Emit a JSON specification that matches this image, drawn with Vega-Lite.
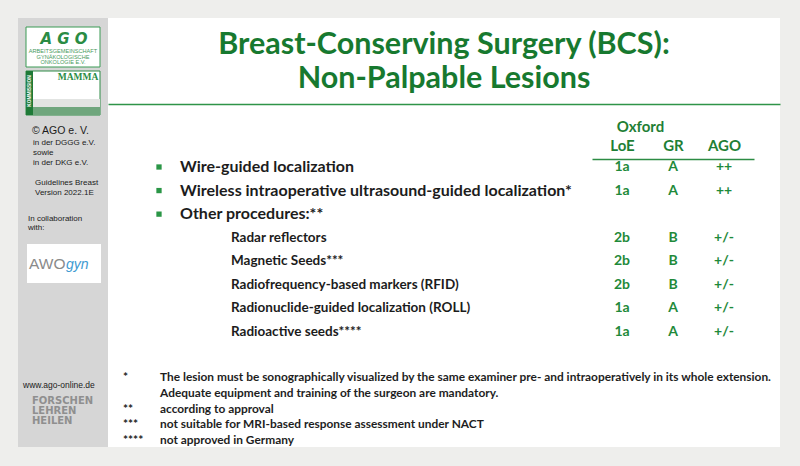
{
  "$schema": "https://vega.github.io/schema/vega-lite/v6.json",
  "background": "#eeeeec",
  "padding": {"left": 18, "top": 18, "right": 20, "bottom": 19},
  "spacing": 0,
  "bounds": "flush",
  "config": {"view": {"stroke": null}},
  "datasets": {
    "procedures": [
      {"order": 1, "group": "main", "item": "Wire-guided localization", "LoE": "1a", "GR": "A", "AGO": "++"},
      {"order": 2, "group": "main", "item": "Wireless intraoperative ultrasound-guided localization*", "LoE": "1a", "GR": "A", "AGO": "++"},
      {"order": 3, "group": "main", "item": "Other procedures:**"},
      {"order": 4, "group": "other", "item": "Radar reflectors", "LoE": "2b", "GR": "B", "AGO": "+/-"},
      {"order": 5, "group": "other", "item": "Magnetic Seeds***", "LoE": "2b", "GR": "B", "AGO": "+/-"},
      {"order": 6, "group": "other", "item": "Radiofrequency-based markers (RFID)", "LoE": "2b", "GR": "B", "AGO": "+/-"},
      {"order": 7, "group": "other", "item": "Radionuclide-guided localization (ROLL)", "LoE": "1a", "GR": "A", "AGO": "+/-"},
      {"order": 8, "group": "other", "item": "Radioactive seeds****", "LoE": "1a", "GR": "A", "AGO": "+/-"}
    ],
    "footnotes": [
      {"order": 1, "symbol": "*", "note": "The lesion must be sonographically visualized by the same examiner pre- and intraoperatively in its whole extension."},
      {"order": 2, "symbol": "", "note": "Adequate equipment and training of the surgeon are mandatory."},
      {"order": 3, "symbol": "**", "note": "according to approval"},
      {"order": 4, "symbol": "***", "note": "not suitable for MRI-based response assessment under NACT"},
      {"order": 5, "symbol": "****", "note": "not approved in Germany"}
    ]
  },
  "hconcat": [
    {
      "width": 90,
      "height": 429,
      "view": {"fill": "#d6d6d6", "stroke": null},
      "resolve": {"scale": {"x": "independent", "y": "independent"}},
      "layer": [
        {
          "data": {"values": [{"logo": "AGO"}]},
          "mark": {"type": "rect", "fill": "#ffffff", "stroke": "#3b9a55", "strokeWidth": 1},
          "encoding": {
            "x": {"field": "logo", "type": "nominal", "scale": {"type": "band", "domain": ["AGO"], "range": [8, 82], "padding": 0}, "axis": null},
            "y": {"field": "logo", "type": "nominal", "scale": {"type": "band", "domain": ["AGO"], "range": [9, 49], "padding": 0}, "axis": null}
          }
        },
        {
          "data": {"values": [{"logo": "AGO", "text": "A G O"}]},
          "mark": {"type": "text", "font": "DejaVu Sans", "fontStyle": "italic", "fontWeight": "bold", "fontSize": 15, "color": "#2a8c44", "align": "center", "baseline": "middle"},
          "encoding": {
            "x": {"field": "logo", "type": "nominal", "scale": {"domain": ["AGO"], "range": [46, 46]}, "axis": null},
            "y": {"field": "logo", "type": "nominal", "scale": {"domain": ["AGO"], "range": [21, 21]}, "axis": null},
            "text": {"field": "text"}
          }
        },
        {
          "data": {"values": [
            {"logo": "AGO", "line": 1, "text": "ARBEITSGEMEINSCHAFT"},
            {"logo": "AGO", "line": 2, "text": "GYNÄKOLOGISCHE"},
            {"logo": "AGO", "line": 3, "text": "ONKOLOGIE E.V."}
          ]},
          "mark": {"type": "text", "font": "Liberation Sans", "fontSize": 5.6, "color": "#4a9a5c", "align": "center", "baseline": "middle"},
          "encoding": {
            "x": {"field": "logo", "type": "nominal", "scale": {"domain": ["AGO"], "range": [45, 45]}, "axis": null},
            "y": {"field": "line", "type": "quantitative", "scale": {"domain": [1, 3], "range": [33, 44], "zero": false, "nice": false}, "axis": null},
            "text": {"field": "text"}
          }
        },
        {
          "data": {"values": [{"logo": "MAMMA"}]},
          "mark": {"type": "rect", "fill": "#ffffff", "stroke": "#2e8b46", "strokeWidth": 1},
          "encoding": {
            "x": {"field": "logo", "type": "nominal", "scale": {"type": "band", "domain": ["MAMMA"], "range": [8, 82], "padding": 0}, "axis": null},
            "y": {"field": "logo", "type": "nominal", "scale": {"type": "band", "domain": ["MAMMA"], "range": [53, 97], "padding": 0}, "axis": null}
          }
        },
        {
          "data": {"values": [{"logo": "MAMMA"}]},
          "mark": {"type": "rect", "fill": "#e2e4e2"},
          "encoding": {
            "x": {"field": "logo", "type": "nominal", "scale": {"type": "band", "domain": ["MAMMA"], "range": [15, 82], "padding": 0}, "axis": null},
            "y": {"field": "logo", "type": "nominal", "scale": {"type": "band", "domain": ["MAMMA"], "range": [81, 89], "padding": 0}, "axis": null}
          }
        },
        {
          "data": {"values": [{"logo": "MAMMA"}]},
          "mark": {"type": "rect", "fill": "#6fa67d"},
          "encoding": {
            "x": {"field": "logo", "type": "nominal", "scale": {"type": "band", "domain": ["MAMMA"], "range": [15, 82], "padding": 0}, "axis": null},
            "y": {"field": "logo", "type": "nominal", "scale": {"type": "band", "domain": ["MAMMA"], "range": [89, 97], "padding": 0}, "axis": null}
          }
        },
        {
          "data": {"values": [{"logo": "MAMMA"}]},
          "mark": {"type": "rect", "fill": "#1e7a37"},
          "encoding": {
            "x": {"field": "logo", "type": "nominal", "scale": {"type": "band", "domain": ["MAMMA"], "range": [8, 15], "padding": 0}, "axis": null},
            "y": {"field": "logo", "type": "nominal", "scale": {"type": "band", "domain": ["MAMMA"], "range": [53, 97], "padding": 0}, "axis": null}
          }
        },
        {
          "data": {"values": [{"logo": "MAMMA", "text": "KOMMISSION"}]},
          "mark": {"type": "text", "font": "Liberation Sans", "fontWeight": "bold", "fontSize": 4.8, "color": "#ffffff", "angle": 270, "align": "center", "baseline": "middle"},
          "encoding": {
            "x": {"field": "logo", "type": "nominal", "scale": {"domain": ["MAMMA"], "range": [11.5, 11.5]}, "axis": null},
            "y": {"field": "logo", "type": "nominal", "scale": {"domain": ["MAMMA"], "range": [73, 73]}, "axis": null},
            "text": {"field": "text"}
          }
        },
        {
          "data": {"values": [{"logo": "MAMMA", "text": "MAMMA"}]},
          "mark": {"type": "text", "font": "Liberation Serif", "fontWeight": "bold", "fontSize": 9.5, "color": "#2a8c44", "align": "center", "baseline": "middle"},
          "encoding": {
            "x": {"field": "logo", "type": "nominal", "scale": {"domain": ["MAMMA"], "range": [60, 60]}, "axis": null},
            "y": {"field": "logo", "type": "nominal", "scale": {"domain": ["MAMMA"], "range": [59, 59]}, "axis": null},
            "text": {"field": "text"}
          }
        },
        {
          "data": {"values": [{"logo": "AWOgyn"}]},
          "mark": {"type": "rect", "fill": "#ffffff"},
          "encoding": {
            "x": {"field": "logo", "type": "nominal", "scale": {"type": "band", "domain": ["AWOgyn"], "range": [9, 83], "padding": 0}, "axis": null},
            "y": {"field": "logo", "type": "nominal", "scale": {"type": "band", "domain": ["AWOgyn"], "range": [226, 265], "padding": 0}, "axis": null}
          }
        },
        {
          "data": {"values": [{"logo": "AWOgyn", "text": "AWO"}]},
          "mark": {"type": "text", "font": "Liberation Sans", "fontSize": 15.5, "color": "#8a8a8a", "align": "left", "baseline": "middle"},
          "encoding": {
            "x": {"field": "logo", "type": "nominal", "scale": {"domain": ["AWOgyn"], "range": [11, 11]}, "axis": null},
            "y": {"field": "logo", "type": "nominal", "scale": {"domain": ["AWOgyn"], "range": [246, 246]}, "axis": null},
            "text": {"field": "text"}
          }
        },
        {
          "data": {"values": [{"logo": "AWOgyn", "text": "gyn"}]},
          "mark": {"type": "text", "font": "Liberation Sans", "fontStyle": "italic", "fontSize": 14, "color": "#3d9ad1", "align": "left", "baseline": "middle"},
          "encoding": {
            "x": {"field": "logo", "type": "nominal", "scale": {"domain": ["AWOgyn"], "range": [48, 48]}, "axis": null},
            "y": {"field": "logo", "type": "nominal", "scale": {"domain": ["AWOgyn"], "range": [247, 247]}, "axis": null},
            "text": {"field": "text"}
          }
        },
        {
          "data": {"values": [{"block": "org", "text": "© AGO e. V."}]},
          "mark": {"type": "text", "font": "Liberation Sans", "fontSize": 10.5, "color": "#1b1b1b", "align": "left", "baseline": "middle"},
          "encoding": {
            "x": {"field": "block", "type": "nominal", "scale": {"domain": ["org"], "range": [14, 14]}, "axis": null},
            "y": {"field": "block", "type": "nominal", "scale": {"domain": ["org"], "range": [113, 113]}, "axis": null},
            "text": {"field": "text"}
          }
        },
        {
          "data": {"values": [
            {"block": "membership", "line": 1, "text": "in der DGGG e.V."},
            {"block": "membership", "line": 2, "text": "sowie"},
            {"block": "membership", "line": 3, "text": "in der DKG e.V."}
          ]},
          "mark": {"type": "text", "font": "Liberation Sans", "fontSize": 8, "color": "#1b1b1b", "align": "left", "baseline": "middle"},
          "encoding": {
            "x": {"field": "block", "type": "nominal", "scale": {"domain": ["membership"], "range": [15, 15]}, "axis": null},
            "y": {"field": "line", "type": "quantitative", "scale": {"domain": [1, 3], "range": [125, 145], "zero": false, "nice": false}, "axis": null},
            "text": {"field": "text"}
          }
        },
        {
          "data": {"values": [
            {"block": "guidelines", "line": 1, "text": "Guidelines Breast"},
            {"block": "guidelines", "line": 2, "text": "Version 2022.1E"}
          ]},
          "mark": {"type": "text", "font": "Liberation Sans", "fontSize": 8, "color": "#1b1b1b", "align": "left", "baseline": "middle"},
          "encoding": {
            "x": {"field": "block", "type": "nominal", "scale": {"domain": ["guidelines"], "range": [17, 17]}, "axis": null},
            "y": {"field": "line", "type": "quantitative", "scale": {"domain": [1, 2], "range": [165, 174.5], "zero": false, "nice": false}, "axis": null},
            "text": {"field": "text"}
          }
        },
        {
          "data": {"values": [
            {"block": "collaboration", "line": 1, "text": "In collaboration"},
            {"block": "collaboration", "line": 2, "text": "with:"}
          ]},
          "mark": {"type": "text", "font": "Liberation Sans", "fontSize": 8, "color": "#1b1b1b", "align": "left", "baseline": "middle"},
          "encoding": {
            "x": {"field": "block", "type": "nominal", "scale": {"domain": ["collaboration"], "range": [10, 10]}, "axis": null},
            "y": {"field": "line", "type": "quantitative", "scale": {"domain": [1, 2], "range": [201, 209.5], "zero": false, "nice": false}, "axis": null},
            "text": {"field": "text"}
          }
        },
        {
          "data": {"values": [{"block": "web", "text": "www.ago-online.de"}]},
          "mark": {"type": "text", "font": "Liberation Sans", "fontSize": 8.5, "color": "#1b1b1b", "align": "left", "baseline": "middle"},
          "encoding": {
            "x": {"field": "block", "type": "nominal", "scale": {"domain": ["web"], "range": [5, 5]}, "axis": null},
            "y": {"field": "block", "type": "nominal", "scale": {"domain": ["web"], "range": [367, 367]}, "axis": null},
            "text": {"field": "text"}
          }
        },
        {
          "data": {"values": [
            {"block": "motto", "line": 1, "text": "FORSCHEN"},
            {"block": "motto", "line": 2, "text": "LEHREN"},
            {"block": "motto", "line": 3, "text": "HEILEN"}
          ]},
          "mark": {"type": "text", "font": "DejaVu Sans", "fontWeight": "bold", "fontSize": 10, "color": "#8f8f8f", "align": "left", "baseline": "middle"},
          "encoding": {
            "x": {"field": "block", "type": "nominal", "scale": {"domain": ["motto"], "range": [14, 14]}, "axis": null},
            "y": {"field": "line", "type": "quantitative", "scale": {"domain": [1, 3], "range": [383, 403], "zero": false, "nice": false}, "axis": null},
            "text": {"field": "text"}
          }
        }
      ]
    },
    {
      "width": 672,
      "height": 429,
      "view": {"fill": "#ffffff", "stroke": null},
      "resolve": {"scale": {"x": "independent", "y": "independent"}},
      "layer": [
        {
          "data": {"values": [
            {"section": "title", "line": 1, "text": "Breast-Conserving Surgery (BCS):"},
            {"section": "title", "line": 2, "text": "Non-Palpable Lesions"}
          ]},
          "mark": {"type": "text", "font": "Lato", "fontWeight": "bold", "fontSize": 30.5, "color": "#17792f", "align": "center", "baseline": "middle"},
          "encoding": {
            "x": {"field": "section", "type": "nominal", "scale": {"domain": ["title"], "range": [0, 672]},
                  "axis": {"orient": "top", "offset": -86, "domainColor": "#2f9448", "domainWidth": 1.5, "labels": false, "ticks": false, "title": null, "grid": false}},
            "y": {"field": "line", "type": "quantitative", "scale": {"domain": [1, 2], "range": [27, 61], "zero": false, "nice": false}, "axis": null},
            "text": {"field": "text"}
          }
        },
        {
          "data": {"name": "procedures"},
          "transform": [
            {"fold": ["LoE", "GR", "AGO"], "as": ["rating", "grade"]},
            {"filter": "isValid(datum.grade)"}
          ],
          "mark": {"type": "text", "font": "Lato", "fontWeight": "bold", "fontSize": 14, "color": "#1f8a3a", "align": "center", "baseline": "middle"},
          "encoding": {
            "x": {"field": "rating", "type": "nominal", "scale": {"domain": ["LoE", "GR", "AGO"], "range": [484, 646], "padding": 0.588},
                  "axis": {"orient": "top", "offset": -141, "domainColor": "#2c8c44", "domainWidth": 1.5, "ticks": false, "labelPadding": 6, "labelAngle": 0,
                           "labelFont": "Lato", "labelFontWeight": "bold", "labelFontSize": 15, "labelColor": "#1f7f36",
                           "title": "Oxford", "titleFont": "Lato", "titleFontWeight": "bold", "titleFontSize": 15, "titleColor": "#1f7f36",
                           "titlePadding": 4, "titleX": 532, "titleAlign": "center", "grid": false}},
            "y": {"field": "order", "type": "quantitative", "scale": {"domain": [1, 8], "range": [149, 314], "zero": false, "nice": false}, "axis": null},
            "text": {"field": "grade"}
          }
        },
        {
          "data": {"name": "procedures"},
          "transform": [{"filter": "datum.group == 'main'"}],
          "mark": {"type": "point", "shape": "square", "filled": true, "color": "#2a9646", "size": 28, "opacity": 1},
          "encoding": {
            "x": {"field": "group", "type": "nominal", "scale": {"domain": ["main"], "range": [51, 51]}, "axis": null},
            "y": {"field": "order", "type": "quantitative", "scale": {"domain": [1, 8], "range": [149, 314], "zero": false, "nice": false}, "axis": null}
          }
        },
        {
          "data": {"name": "procedures"},
          "transform": [{"filter": "datum.group == 'main'"}],
          "mark": {"type": "text", "font": "Lato", "fontWeight": "bold", "fontSize": 16, "color": "#1c1c1c", "align": "left", "baseline": "middle"},
          "encoding": {
            "x": {"field": "group", "type": "nominal", "scale": {"domain": ["main"], "range": [72, 72]}, "axis": null},
            "y": {"field": "order", "type": "quantitative", "scale": {"domain": [1, 8], "range": [149, 314], "zero": false, "nice": false}, "axis": null},
            "text": {"field": "item"}
          }
        },
        {
          "data": {"name": "procedures"},
          "transform": [{"filter": "datum.group == 'other'"}],
          "mark": {"type": "text", "font": "Lato", "fontWeight": "bold", "fontSize": 13.5, "color": "#1c1c1c", "align": "left", "baseline": "middle"},
          "encoding": {
            "x": {"field": "group", "type": "nominal", "scale": {"domain": ["other"], "range": [123, 123]}, "axis": null},
            "y": {"field": "order", "type": "quantitative", "scale": {"domain": [1, 8], "range": [149, 314], "zero": false, "nice": false}, "axis": null},
            "text": {"field": "item"}
          }
        },
        {
          "data": {"name": "footnotes"},
          "transform": [{"fold": ["symbol", "note"], "as": ["part", "content"]}],
          "mark": {"type": "text", "font": "Lato", "fontWeight": "bold", "fontSize": 11.9, "color": "#1e1e1e", "align": "left", "baseline": "middle"},
          "encoding": {
            "x": {"field": "part", "type": "nominal", "scale": {"domain": ["symbol", "note"], "range": [15, 52], "padding": 0}, "axis": null},
            "y": {"field": "order", "type": "quantitative", "scale": {"domain": [1, 5], "range": [359, 422], "zero": false, "nice": false}, "axis": null},
            "text": {"field": "content"}
          }
        }
      ]
    }
  ]
}
